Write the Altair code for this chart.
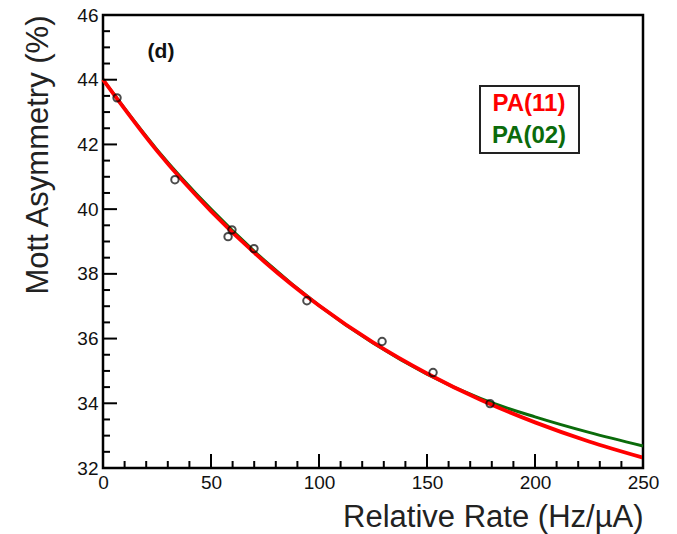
import altair as alt
import pandas as pd

# measured data points
rate = [6.5, 33.3, 57.9, 59.7, 69.9, 94.4, 129.2, 152.8, 179.2]
asym = [43.44, 40.91, 39.15, 39.36, 38.78, 37.17, 35.91, 34.95, 33.99]

# fit curves
fit_x = [0, 25, 50, 75, 100, 125, 150, 175, 200, 225, 250]
fit_pa11 = [44.00, 41.80, 39.94, 38.36, 37.02, 35.88, 34.92, 34.10, 33.41, 32.82, 32.32]
fit_pa02 = [44.00, 41.84, 40.00, 38.40, 37.02, 35.86, 34.90, 34.14, 33.58, 33.10, 32.68]

series = ["PA(11)", "PA(02)"]
series_colors = ["#ff0000", "#0b6b0b"]

x_major = [0, 50, 100, 150, 200, 250]
x_minor = [v for v in range(0, 251, 10) if v % 50]
y_major = [32, 34, 36, 38, 40, 42, 44, 46]
y_minor = [32.5, 33, 33.5, 34.5, 35, 35.5, 36.5, 37, 37.5, 38.5, 39, 39.5,
           40.5, 41, 41.5, 42.5, 43, 43.5, 44.5, 45, 45.5]

W, H = 540, 453
pts = pd.DataFrame({"rate": rate, "asym": asym})
fits = pd.DataFrame({"rate": fit_x, "PA(11)": fit_pa11, "PA(02)": fit_pa02})

FONT = "Liberation Sans"
xs = alt.Scale(domain=[0, 250], nice=False, zero=False)
ys = alt.Scale(domain=[32, 46], nice=False, zero=False)

main_x = alt.Axis(orient="bottom", values=x_major, ticks=False, domain=False, grid=False,
                  labelFontSize=19, labelFont=FONT, labelColor="#111", labelPadding=5,
                  title="Relative Rate (Hz/µA)", titleAnchor="end", titleFont=FONT,
                  titleFontSize=31, titleFontWeight="normal", titleColor="#222",
                  titlePadding=10, labelFlush=False)
main_y = alt.Axis(orient="left", values=y_major, ticks=False, domain=False, grid=False,
                  labelFontSize=19, labelFont=FONT, labelColor="#111", labelPadding=5,
                  title="Mott Asymmetry (%)", titleAnchor="end", titleFont=FONT,
                  titleFontSize=31, titleFontWeight="normal", titleColor="#222",
                  titlePadding=22, labelFlush=False)


def X(field):
    return alt.X(field, type="quantitative", scale=xs, axis=main_x)


def Y(field):
    return alt.Y(field, type="quantitative", scale=ys, axis=main_y)


green = alt.Chart(fits).mark_line(strokeWidth=3, color=series_colors[1], interpolate="monotone").encode(
    x=X("rate"), y=Y("PA(02)"))
red = alt.Chart(fits).mark_line(strokeWidth=3.8, color=series_colors[0], interpolate="monotone").encode(
    x=X("rate"), y=Y("PA(11)"))
points = alt.Chart(pts).mark_point(shape="circle", size=55, filled=False, color="#000", strokeWidth=2).encode(
    x=X("rate"), y=Y("asym"))


def xticks(vals, length):
    return alt.Chart(pd.DataFrame({"v": vals})).mark_rule(color="#000", strokeWidth=2).encode(
        x=X("v"), y=alt.value(H), y2=alt.value(H - length))


def yticks(vals, length):
    return alt.Chart(pd.DataFrame({"v": vals})).mark_rule(color="#000", strokeWidth=2).encode(
        y=Y("v"), x=alt.value(0), x2=alt.value(length))


panel_label = alt.Chart(pd.DataFrame({"t": ["(d)"]})).mark_text(
    font=FONT, fontSize=21, fontWeight="bold", color="#111", align="center", baseline="middle"
).encode(x=alt.value(58), y=alt.value(37), text="t:N")


def legend_entry(i, ypix):
    return alt.Chart(pd.DataFrame({"name": [series[i]]})).mark_text(
        font=FONT, fontSize=24, fontWeight="bold", align="center", baseline="middle",
        color=series_colors[i]
    ).encode(x=alt.value(426), y=alt.value(ypix), text="name:N")


legend_box = alt.Chart(pd.DataFrame({"a": [0]})).mark_rect(
    fill=None, stroke="#222", strokeWidth=2
).encode(x=alt.value(377), x2=alt.value(476), y=alt.value(71), y2=alt.value(138))

chart = alt.layer(
    green, red, points,
    xticks(x_major, 14), xticks(x_minor, 7), yticks(y_major, 14), yticks(y_minor, 7),
    panel_label, legend_box, legend_entry(0, 89), legend_entry(1, 121)
).properties(
    width=W, height=H,
    autosize=alt.AutoSizeParams(type="none"),
    padding={"left": 95, "top": 7, "right": 26, "bottom": 66},
).configure_view(stroke="#000", strokeWidth=2.5)

chart.save("out.html", embed_options={"renderer": "svg", "actions": False})
